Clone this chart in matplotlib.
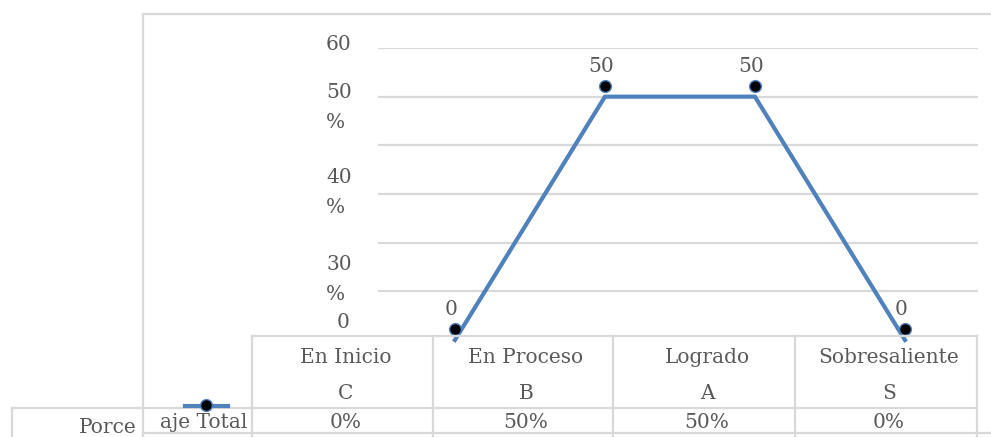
import numpy as np
import matplotlib
matplotlib.use("Agg")
import matplotlib.pyplot as plt
from matplotlib.lines import Line2D
from matplotlib.transforms import ScaledTranslation

categorias = ["En Inicio", "En Proceso", "Logrado", "Sobresaliente"]
letras = ["C", "B", "A", "S"]
valores = [0, 50, 50, 0]
porcentajes = ["0%", "50%", "50%", "0%"]
serie = "Porcentaje Total"
eje_y = ["60", "50", "%", "40", "%", "30", "%", "0"]

W, H = 991, 437
AZUL = "#4f81bd"
GRIS = "#d9d9d9"
TEXTO = "#595959"
plt.rcParams["font.family"] = ["DejaVu Serif"]
FS = 14.5

fig = plt.figure(figsize=(W / 100, H / 100), dpi=100)


def fx(x):
    return x / W


def fy(y):
    return 1 - y / H


def linea(x0, y0, x1, y1, color=GRIS, lw=1.6):
    fig.add_artist(Line2D([fx(x0), fx(x1)], [fy(y0), fy(y1)], color=color,
                          lw=lw, transform=fig.transFigure))


def texto(x, y, s, ha="center"):
    fig.text(fx(x), fy(y), s, ha=ha, va="baseline", fontsize=FS, color=TEXTO)


# area del grafico
ax = fig.add_axes([fx(378), fy(340), (978 - 378) / W, (340 - 48) / H])
ax.set_xlim(-0.513, 3.487)
ax.set_ylim(0, 60)
ax.set_yticks(np.arange(10, 61, 10))
ax.set_xticks([])
ax.tick_params(left=False, labelleft=False)
ax.grid(axis="y", color=GRIS, lw=1.6)
for s in ax.spines.values():
    s.set_visible(False)
ax.patch.set_alpha(0)

x = np.arange(len(valores))
ax.plot(x, valores, color=AZUL, lw=3, clip_on=False, solid_joinstyle="miter")
desplazado = ax.transData + ScaledTranslation(0, 11 / 100, fig.dpi_scale_trans)
ax.plot(x, valores, "o", ms=8.5, mfc="black", mec=AZUL, mew=1,
        transform=desplazado, clip_on=False)
for xi, v in zip(x, valores):
    ax.annotate(str(v), (xi, v), xytext=(-4, 25), textcoords="offset pixels",
                ha="center", va="baseline", fontsize=FS, color=TEXTO)

# etiquetas del eje y (como salen en la imagen)
pos_y = [(326, 50), (326, 98), (326, 128), (326, 183), (326, 213),
         (326, 270), (326, 300), (349, 328)]
for s, (px, py) in zip(eje_y, pos_y):
    texto(px, py, s, ha="right" if s == "0" else "left")

# marco y tabla
linea(143, 14, 991, 14)
linea(143, 14, 143, 437)
linea(12, 408, 12, 437)
linea(252, 336, 977, 336)
linea(12, 408, 977, 408)
linea(143, 433, 991, 433)
columnas = [252, 433, 613, 795, 977]
for c in columnas:
    linea(c, 336, c, 437)

for i in range(len(categorias)):
    cx = (columnas[i] + columnas[i + 1]) / 2 + 3
    texto(cx, 363, categorias[i])
    texto(cx, 399, letras[i])
    texto(cx, 428, porcentajes[i])

# encabezado de fila con la clave de la leyenda
texto(137, 433, serie[:5], ha="right")
texto(247, 428, serie[7:], ha="right")
linea(185, 405.5, 228, 405.5, color=AZUL, lw=3)
fig.add_artist(Line2D([fx(206)], [fy(405)], marker="o", ms=8.5, mfc="black",
                      mec=AZUL, mew=1, transform=fig.transFigure))

fig.savefig("out.png", dpi=100)
